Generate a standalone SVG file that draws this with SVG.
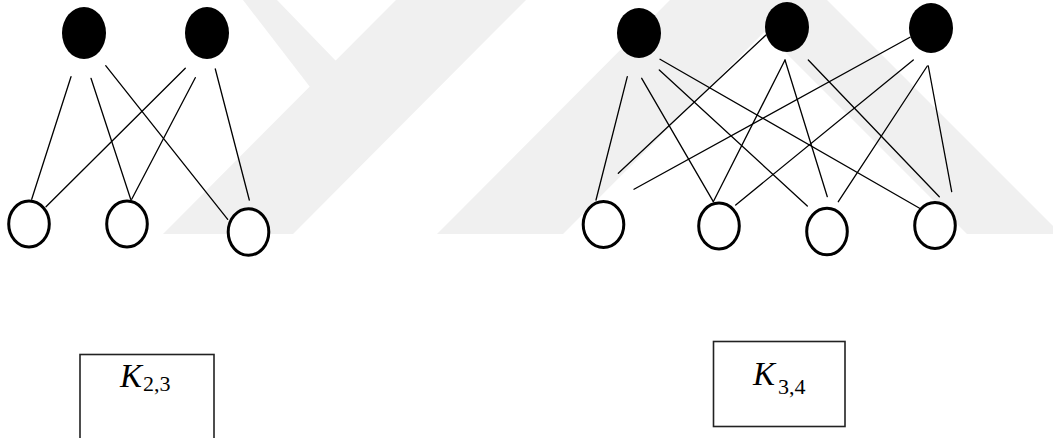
<svg xmlns="http://www.w3.org/2000/svg" width="1053" height="438" viewBox="0 0 1053 438">
  <style>
    .wm { fill: #f0f0f0; stroke: none; }
    .top { fill: #000; stroke: none; }
    .bot { fill: #fff; stroke: #000; stroke-width: 3; }
    .edge { stroke: #000; stroke-width: 1.3; fill: none; stroke-linecap: round; }
    .box { fill: none; stroke: #222; stroke-width: 1.6; }
    .k { font-family: "Liberation Serif", "DejaVu Serif", serif; font-style: italic; font-size: 33px; fill: #000; }
    .sub { font-family: "Liberation Serif", "DejaVu Serif", serif; font-size: 22px; fill: #000; }
  </style>
  <rect width="1053" height="438" fill="#fff"/>
  <g id="watermark">
    <polygon class="wm" points="243,0 277,0 336,61 310,87"/>
    <polygon class="wm" points="396,0 526,0 293,234 163,234"/>
    <polygon class="wm" points="670,0 796,0 563,234 437,234"/>
    <polygon class="wm" points="733,0 827,0 1061,234 967,234"/>
  </g>
  <g id="connectors">
    <line class="edge" x1="71" y1="76.7" x2="31.7" y2="199.3"/>
    <line class="edge" x1="91" y1="78.3" x2="130.7" y2="199.3"/>
    <line class="edge" x1="105.7" y1="65.7" x2="227.7" y2="219.3"/>
    <line class="edge" x1="185.3" y1="68.3" x2="46" y2="206.7"/>
    <line class="edge" x1="195.3" y1="77.7" x2="131.7" y2="199.3"/>
    <line class="edge" x1="215.3" y1="69" x2="249.3" y2="200"/>
    <line class="edge" x1="627.3" y1="76.7" x2="596" y2="200"/>
    <line class="edge" x1="641.7" y1="78.3" x2="713.3" y2="201.7"/>
    <line class="edge" x1="659.3" y1="70" x2="807.3" y2="206"/>
    <line class="edge" x1="660" y1="59.3" x2="928.3" y2="213.3"/>
    <line class="edge" x1="766" y1="35" x2="618.3" y2="173.3"/>
    <line class="edge" x1="785" y1="60" x2="713.3" y2="201.7"/>
    <line class="edge" x1="785" y1="60" x2="827.3" y2="196.7"/>
    <line class="edge" x1="808.3" y1="60" x2="939.3" y2="196.7"/>
    <line class="edge" x1="910" y1="37.3" x2="634" y2="189.3"/>
    <line class="edge" x1="913.3" y1="60" x2="735.7" y2="205"/>
    <line class="edge" x1="927.3" y1="66" x2="838.3" y2="201.7"/>
    <line class="edge" x1="928.3" y1="66" x2="951.7" y2="191.7"/>
  </g>
  <g id="k23-a1"><ellipse class="top" cx="84" cy="33" rx="22" ry="26"/></g>
  <g id="k23-a2"><ellipse class="top" cx="207" cy="33" rx="22" ry="26"/></g>
  <g id="k23-b1"><ellipse class="bot" cx="29" cy="224" rx="20.3" ry="23"/></g>
  <g id="k23-b2"><ellipse class="bot" cx="127" cy="224" rx="20.3" ry="23"/></g>
  <g id="k23-b3"><ellipse class="bot" cx="248.5" cy="232" rx="20.3" ry="23.3"/></g>
  <g id="k34-a1"><ellipse class="top" cx="639" cy="33" rx="22" ry="25"/></g>
  <g id="k34-a2"><ellipse class="top" cx="787" cy="27" rx="22" ry="25"/></g>
  <g id="k34-a3"><ellipse class="top" cx="931" cy="28" rx="22" ry="25"/></g>
  <g id="k34-b1"><ellipse class="bot" cx="603.5" cy="224.5" rx="20.3" ry="23"/></g>
  <g id="k34-b2"><ellipse class="bot" cx="719" cy="226" rx="20.3" ry="23"/></g>
  <g id="k34-b3"><ellipse class="bot" cx="827" cy="231.5" rx="20.3" ry="23.3"/></g>
  <g id="k34-b4"><ellipse class="bot" cx="935" cy="225.5" rx="20.3" ry="23"/></g>
  <g id="label-k23">
    <rect class="box" x="80" y="354.5" width="134" height="90"/>
    <text x="120" y="386.7"><tspan class="k">K</tspan><tspan class="sub" x="143" y="390.5">2,3</tspan></text>
  </g>
  <g id="label-k34">
    <rect class="box" x="713.5" y="341.5" width="131.5" height="85"/>
    <text x="753" y="385"><tspan class="k">K</tspan><tspan class="sub" x="778" y="394">3,4</tspan></text>
  </g>
</svg>
